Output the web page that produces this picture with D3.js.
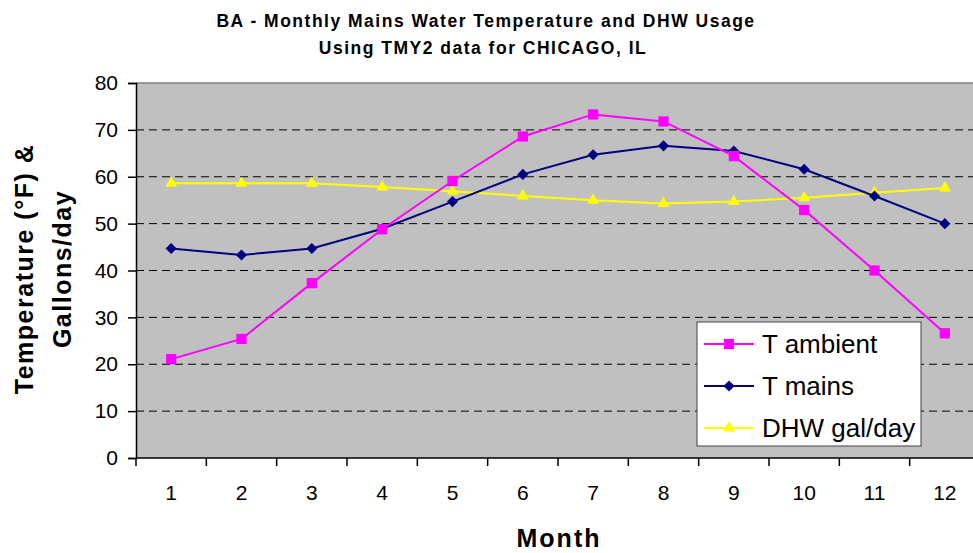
<!DOCTYPE html>
<html>
<head>
<meta charset="utf-8">
<script src="https://cdn.jsdelivr.net/npm/d3@7"></script>
<style>
  body { margin: 0; background: #fff; }
  text { font-family: "Liberation Sans", Arial, sans-serif; }
</style>
</head>
<body>
<div id="chart"></div>
<script>
// data
var months = [1, 2, 3, 4, 5, 6, 7, 8, 9, 10, 11, 12];
var tAmbient = [21.1, 25.4, 37.3, 48.8, 59.1, 68.6, 73.3, 71.8, 64.4, 52.9, 40.0, 26.6];
var tMains = [44.7, 43.3, 44.7, 48.9, 54.7, 60.5, 64.7, 66.6, 65.5, 61.6, 55.9, 50.0];
var dhwGal = [58.6, 58.6, 58.6, 57.8, 56.9, 55.9, 55.0, 54.3, 54.7, 55.5, 56.6, 57.6];
var yTicks = [0, 10, 20, 30, 40, 50, 60, 70, 80];
var seriesNames = ["T ambient", "T mains", "DHW gal/day"];

var width = 973, height = 553;
var plot = {left: 136, right: 980, top: 83, bottom: 458};

var svg = d3.select("#chart").append("svg")
    .attr("width", width)
    .attr("height", height);

var x = d3.scaleBand()
    .domain(months)
    .range([plot.left, plot.right]);

var y = d3.scaleLinear()
    .domain([0, 80])
    .range([plot.bottom, plot.top]);

// plot background
svg.append("rect")
    .attr("x", plot.left)
    .attr("y", plot.top)
    .attr("width", plot.right - plot.left)
    .attr("height", plot.bottom - plot.top)
    .attr("fill", "#c0c0c0");

// dashed gridlines
svg.append("g")
    .selectAll("line")
    .data(yTicks.filter(function(d) { return d > 0 && d < 80; }))
    .join("line")
    .attr("x1", plot.left)
    .attr("x2", plot.right)
    .attr("y1", function(d) { return y(d); })
    .attr("y2", function(d) { return y(d); })
    .attr("stroke", "#000")
    .attr("stroke-width", 1)
    .attr("stroke-dasharray", "8,5");

// top border
svg.append("line")
    .attr("x1", plot.left).attr("x2", plot.right)
    .attr("y1", y(80)).attr("y2", y(80))
    .attr("stroke", "#808080")
    .attr("stroke-width", 1.5);

// y axis
var yAxis = svg.append("g")
    .attr("transform", "translate(" + plot.left + ",0)")
    .call(d3.axisLeft(y).tickValues(yTicks).tickSize(8).tickPadding(10));
yAxis.select(".domain").attr("stroke", "#000").attr("stroke-width", 1.5);
yAxis.selectAll(".tick line").attr("stroke", "#000").attr("stroke-width", 1.5);
yAxis.selectAll("text")
    .style("font-family", "'Liberation Sans', Arial, sans-serif")
    .style("font-size", "21px")
    .attr("fill", "#000");

// x axis: ticks at band edges, labels at band centres
var xAxisG = svg.append("g")
    .attr("transform", "translate(0," + plot.bottom + ")");
xAxisG.append("line")
    .attr("x1", plot.left).attr("x2", plot.right)
    .attr("stroke", "#000").attr("stroke-width", 1.5);
xAxisG.selectAll(".edge")
    .data(months)
    .join("line")
    .attr("class", "edge")
    .attr("x1", function(d) { return x(d); })
    .attr("x2", function(d) { return x(d); })
    .attr("y1", 0).attr("y2", 8)
    .attr("stroke", "#000").attr("stroke-width", 1.5);
xAxisG.selectAll(".lbl")
    .data(months)
    .join("text")
    .attr("class", "lbl")
    .attr("x", function(d) { return x(d) + x.bandwidth() / 2; })
    .attr("y", 42)
    .attr("text-anchor", "middle")
    .style("font-size", "21px")
    .text(function(d) { return d; });

// series (diamond = square turned 45 degrees, like Excel's marker)
var series = [
  {name: seriesNames[0], values: tAmbient, color: "#ff00ff", symbol: d3.symbolSquare, size: 105, rot: 0},
  {name: seriesNames[1], values: tMains, color: "#000080", symbol: d3.symbolSquare, size: 62, rot: 45},
  {name: seriesNames[2], values: dhwGal, color: "#ffff00", symbol: d3.symbolTriangle, size: 62, rot: 0}
];

var line = d3.line()
    .x(function(d, i) { return x(months[i]) + x.bandwidth() / 2; })
    .y(function(d) { return y(d); });

// draw order: DHW underneath, then mains, then ambient
[series[2], series[1], series[0]].forEach(function(s) {
  svg.append("path")
      .datum(s.values)
      .attr("fill", "none")
      .attr("stroke", s.color)
      .attr("stroke-width", 2)
      .attr("d", line);
  svg.append("g")
      .selectAll("path")
      .data(s.values)
      .join("path")
      .attr("transform", function(d, i) {
        return "translate(" + (x(months[i]) + x.bandwidth() / 2) + "," + y(d) + ") rotate(" + s.rot + ")";
      })
      .attr("d", d3.symbol().type(s.symbol).size(s.size))
      .attr("fill", s.color);
});

// legend
var legend = svg.append("g").attr("transform", "translate(697,322)");
legend.append("rect")
    .attr("width", 224)
    .attr("height", 124)
    .attr("fill", "#fff")
    .attr("stroke", "#404040")
    .attr("stroke-width", 1);
series.forEach(function(s, i) {
  var row = legend.append("g").attr("transform", "translate(0," + (22 + i * 42) + ")");
  row.append("line")
      .attr("x1", 7).attr("x2", 57)
      .attr("stroke", s.color).attr("stroke-width", 2);
  row.append("path")
      .attr("transform", "translate(32,0) rotate(" + s.rot + ")")
      .attr("d", d3.symbol().type(s.symbol).size(s.size))
      .attr("fill", s.color);
  row.append("text")
      .attr("x", 65)
      .attr("y", 9)
      .style("font-size", "26px")
      .text(s.name);
});

// titles
svg.append("text")
    .attr("x", 486).attr("y", 27)
    .attr("text-anchor", "middle")
    .style("font-size", "17.5px").style("font-weight", "bold")
    .style("letter-spacing", "1.5px")
    .text("BA - Monthly Mains Water Temperature and DHW Usage");
svg.append("text")
    .attr("x", 483).attr("y", 54)
    .attr("text-anchor", "middle")
    .style("font-size", "17.5px").style("font-weight", "bold")
    .style("letter-spacing", "1.5px")
    .text("Using TMY2 data for CHICAGO, IL");

svg.append("text")
    .attr("x", 559).attr("y", 547)
    .attr("text-anchor", "middle")
    .style("font-size", "25px").style("font-weight", "bold")
    .style("letter-spacing", "2px")
    .text("Month");

var yTitle = svg.append("text")
    .attr("transform", "translate(33,269) rotate(-90)")
    .attr("text-anchor", "middle")
    .style("font-size", "25px").style("font-weight", "bold")
    .style("letter-spacing", "1.5px");
yTitle.append("tspan").attr("x", 0).attr("dy", 0).text("Temperature (°F) &");
yTitle.append("tspan").attr("x", 0).attr("dy", 38).text("Gallons/day");
</script>
</body>
</html>
